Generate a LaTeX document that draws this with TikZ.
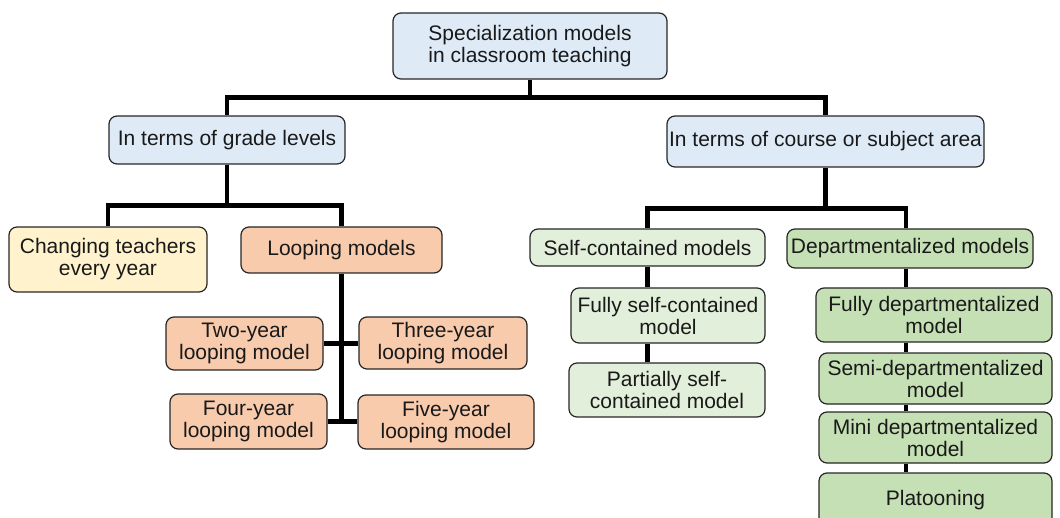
\documentclass[tikz,border=0pt]{standalone}
\usepackage{fontspec}
\setmainfont{Liberation Sans}
\definecolor{bluebox}{HTML}{DEEBF7}
\definecolor{yellowbox}{HTML}{FFF2CC}
\definecolor{orangebox}{HTML}{F8CBAD}
\definecolor{lightgreenbox}{HTML}{E2EFDA}
\definecolor{greenbox}{HTML}{C5E0B4}

\begin{document}
\begin{tikzpicture}[x=0.5pt,y=-0.5pt,
      every node/.style={font=\fontsize{10.5}{11}\selectfont,text=black!90},
      box/.style={draw=black!85,rounded corners=4pt,line width=0.6pt,inner sep=0pt,align=center},
      head/.style={box,fill=bluebox},
      changebox/.style={box,fill=yellowbox},
      loopbox/.style={box,fill=orangebox},
      selfbox/.style={box,fill=lightgreenbox},
      deptbox/.style={box,fill=greenbox},
      conn/.style={line width=2.3pt,black}]

      \clip (0,0) rectangle (1060,518);

      % top levels
      \node[head,minimum width=137pt,minimum height=33pt] (root) at (530,46) {Specialization models\\in classroom teaching};
      \node[head,minimum width=118pt,minimum height=24pt] (grade) at (227,140) {In terms of grade levels};
      \node[head,minimum width=158.5pt,minimum height=25.5pt] (course) at (825.5,141.5) {In terms of course or subject area};

      % grade levels
      \node[changebox,minimum width=99pt,minimum height=32.5pt] (change) at (108,259.5) {Changing teachers\\every year};
      \node[loopbox,minimum width=100.5pt,minimum height=23pt] (loop) at (341.5,250) {Looping models};
      \node[loopbox,minimum width=78.5pt,minimum height=26.5pt] (two) at (244.5,343.5) {Two-year\\looping model};
      \node[loopbox,minimum width=84pt,minimum height=26pt] (three) at (443,343) {Three-year\\looping model};
      \node[loopbox,minimum width=78.5pt,minimum height=27.5pt] (four) at (248.5,421.5) {Four-year\\looping model};
      \node[loopbox,minimum width=88pt,minimum height=27pt] (five) at (446,422) {Five-year\\looping model};

      % course or subject area
      \node[selfbox,minimum width=117.5pt,minimum height=18.5pt] (self) at (647.5,247.5) {Self-contained models};
      \node[selfbox,minimum width=97pt,minimum height=27.5pt] (fullself) at (668,315.5) {Fully self-contained\\model};
      \node[selfbox,minimum width=98pt,minimum height=27pt] (partial) at (667,390) {Partially self-\\contained model};
      \node[deptbox,minimum width=123pt,minimum height=19.5pt] (dept) at (910,248.5) {Departmentalized models};
      \node[deptbox,minimum width=118pt,minimum height=27pt] (fulldept) at (934,315) {Fully departmentalized\\model};
      \node[deptbox,minimum width=116.5pt,minimum height=25.5pt] (semi) at (935.5,378.5) {Semi-departmentalized\\model};
      \node[deptbox,minimum width=116.5pt,minimum height=25.5pt] (mini) at (935.5,437.5) {Mini departmentalized\\model};
      \node[deptbox,minimum width=116.5pt,minimum height=27pt] (platoon) at (935.5,500) {Platooning};

      % connectors
      \draw[conn] (root.south) -- ++(0,18) -| (grade.north);
      \draw[conn] (root.south) -- ++(0,18) -| (course.north);
      \draw[conn] (grade.south) -- ++(0,41) -| (change.north);
      \draw[conn] (grade.south) -- ++(0,41) -| (loop.north);
      \draw[conn] (course.south) -- ++(0,41) -| (self.north);
      \draw[conn] (course.south) -- ++(0,41) -| ([xshift=-2pt]dept.north);
      \draw[conn] (loop.south) -- (loop.south |- four.east);
      \draw[conn] (two.east) -- (two.east -| three.west);
      \draw[conn] (four.east) -- (four.east -| five.west);
      \draw[conn] (self.south) -- (self.south |- fullself.north);
      \draw[conn] (self.south |- fullself.south) -- (self.south |- partial.north);
      \coordinate (dtrunk) at ([xshift=-2pt]dept.south);
      \draw[conn] (dtrunk) -- (dtrunk |- fulldept.north);
      \draw[conn] (dtrunk |- fulldept.south) -- (dtrunk |- semi.north);
      \draw[conn] (dtrunk |- semi.south) -- (dtrunk |- mini.north);
      \draw[conn] (dtrunk |- mini.south) -- (dtrunk |- platoon.north);
\end{tikzpicture}
\end{document}
